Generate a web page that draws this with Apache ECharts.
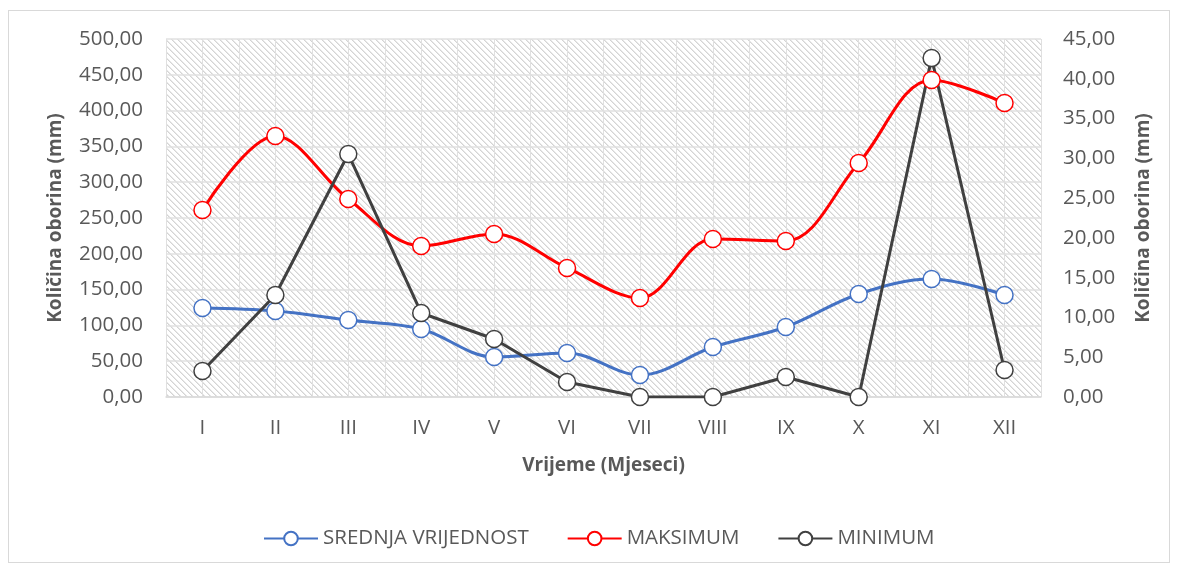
<!DOCTYPE html>
<html><head><meta charset="utf-8">
<script src="https://cdn.jsdelivr.net/npm/echarts@6/dist/echarts.min.js"></script>
<style>
html,body{margin:0;padding:0;background:#fff;}
#frame{position:absolute;left:8px;top:10px;width:1162px;height:553px;border:1px solid #d9d9d9;box-sizing:border-box;}
#c{position:absolute;left:0;top:0;width:1178px;height:566px;}
</style></head>
<body><div id="frame"></div><div id="c"></div>
<script>
const months = ['I','II','III','IV','V','VI','VII','VIII','IX','X','XI','XII'];
const srednja = [124.3,120.1,107.5,95.0,55.9,61.5,30.7,69.8,97.8,143.9,164.8,142.5];
const maksimum = [261.2,364.5,276.5,210.9,227.7,180.2,138.3,220.7,217.9,326.8,442.7,410.6];
const minimum = [3.27,12.82,30.54,10.56,7.29,1.89,0,0,2.51,0,42.6,3.39];
const seriesNames = ['SREDNJA VRIJEDNOST','MAKSIMUM','MINIMUM'];
const leftTitle = 'Količina oborina (mm)';
const rightTitle = 'Količina oborina (mm)';
const xTitle = 'Vrijeme (Mjeseci)';

function hatch(){
  const s=6, cv=document.createElement('canvas'); cv.width=s; cv.height=s;
  const ctx=cv.getContext('2d'); const img=ctx.createImageData(s,s);
  for(let y=0;y<s;y++)for(let x=0;x<s;x++){
    const i=(y*s+x)*4; let v=255;
    const d=((x-y)%s+s)%s;
    if(d===0) v=212; else if(d===1) v=232;
    img.data[i]=v;img.data[i+1]=v;img.data[i+2]=v;img.data[i+3]=255;
  }
  ctx.putImageData(img,0,0); return cv;
}
const FONT='"Open Sans", sans-serif';
const GRAY='#595959';
const fmt=v=>v.toFixed(2).replace('.',',');
const chart=echarts.init(document.getElementById('c'),null,{renderer:'canvas'});
function mk(name,data,color,yIdx,smooth){
  return {name,type:'line',data,yAxisIndex:yIdx,xAxisIndex:0,smooth,
    symbol:'circle',symbolSize:17,showSymbol:true,
    lineStyle:{color,width:3},
    itemStyle:{color:'#fff',borderColor:color,borderWidth:1.5},
    emphasis:{disabled:true},z:3};
}
chart.setOption({
  animation:false,
  textStyle:{fontFamily:FONT},
  grid:{left:166,right:137,top:39,bottom:169,show:true,borderWidth:0,
    backgroundColor:{image:hatch(),repeat:'repeat'}},
  legend:{top:523,left:258,itemWidth:54,itemHeight:17,itemGap:38,
    textStyle:{fontFamily:FONT,fontSize:20.5,color:GRAY,padding:[0,0,0,0]},data:seriesNames},
  xAxis:[{type:'category',data:months,boundaryGap:true,
    axisLine:{lineStyle:{color:'#d9d9d9',width:1.5}},axisTick:{show:false},
    axisLabel:{fontFamily:FONT,fontSize:20.5,color:GRAY,margin:21},
    name:xTitle,nameLocation:'middle',nameGap:59,
    nameTextStyle:{fontFamily:FONT,fontSize:19,fontWeight:'bold',color:GRAY},
    splitLine:{show:false}},
   {type:'value',min:0,max:24,interval:1,position:'top',
    axisLine:{show:false},axisTick:{show:false},axisLabel:{show:false},
    splitLine:{show:true,lineStyle:{color:'#e0e0e0',width:1}}}],
  yAxis:[{type:'value',min:0,max:500,interval:50,
    axisLine:{show:false},axisTick:{show:false},
    axisLabel:{fontFamily:FONT,fontSize:20.5,color:GRAY,margin:23,formatter:fmt},
    splitLine:{lineStyle:{color:'#e0e0e0',width:1.5}},
    name:leftTitle,nameLocation:'middle',nameGap:101,nameRotate:90,
    nameTextStyle:{fontFamily:FONT,fontSize:19,fontWeight:'bold',color:GRAY}},
   {type:'value',min:0,max:45,interval:5,position:'right',
    axisLine:{show:false},axisTick:{show:false},
    axisLabel:{fontFamily:FONT,fontSize:20.5,color:GRAY,margin:22,formatter:fmt},
    splitLine:{show:false},
    name:rightTitle,nameLocation:'middle',nameGap:93,nameRotate:90,
    nameTextStyle:{fontFamily:FONT,fontSize:19,fontWeight:'bold',color:GRAY}}],
  series:[mk(seriesNames[0],srednja,'#4472C4',0,0.35),
          mk(seriesNames[1],maksimum,'#FF0000',0,0.35),
          mk(seriesNames[2],minimum,'#404040',1,false)]
});
</script></body></html>
